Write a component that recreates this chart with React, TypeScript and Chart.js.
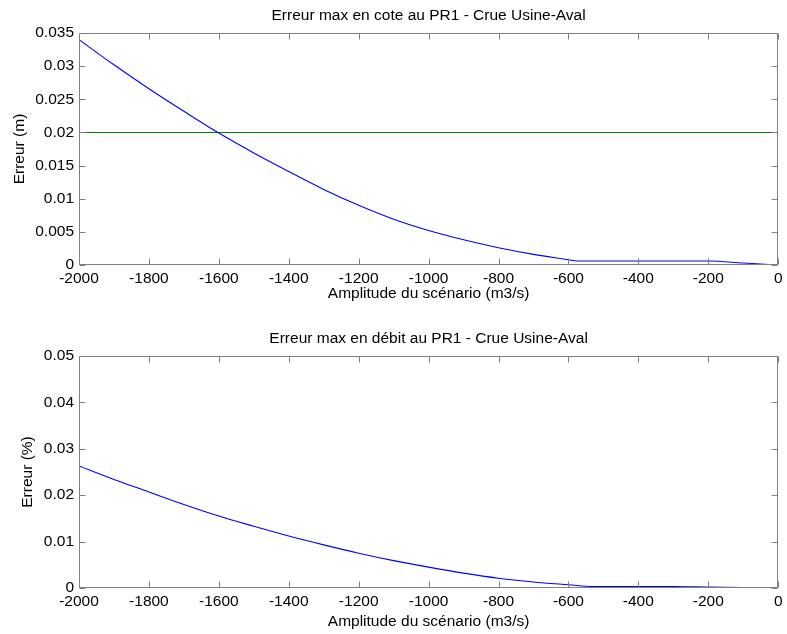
import React, { useEffect, useRef } from 'react';
import { Chart, registerables } from 'chart.js';

Chart.register(...registerables);

// ---- Data ----
const amplitudeCote = [-2000, -1900, -1800, -1700, -1600, -1500, -1400, -1300, -1200, -1100, -1000, -900, -800, -700, -600, -575, -500, -400, -300, -200, -100, 0];
const erreurCote = [0.034, 0.0302, 0.0266, 0.0232, 0.0199, 0.0169, 0.0141, 0.0114, 0.009, 0.0069, 0.0052, 0.0038, 0.0026, 0.0016, 0.0008, 0.0006, 0.0006, 0.0006, 0.0006, 0.0006, 0.0003, 0];
const seuilX = [-2000, 0];
const seuilCote = [0.02, 0.02];

const amplitudeDebit = [-2000, -1900, -1800, -1700, -1600, -1500, -1400, -1300, -1200, -1100, -1000, -900, -800, -700, -600, -530, -400, -300, -200, -100, 0];
const erreurDebit = [0.0263, 0.0234, 0.0207, 0.018, 0.0155, 0.0133, 0.0112, 0.0093, 0.0075, 0.0059, 0.0045, 0.0032, 0.0021, 0.0013, 0.0007, 0.0003, 0.0003, 0.0003, 0.0002, 0.0001, 0];

const xTicks = [-2000, -1800, -1600, -1400, -1200, -1000, -800, -600, -400, -200, 0];
const yTicksCote = [0, 0.005, 0.01, 0.015, 0.02, 0.025, 0.03, 0.035];
const yTicksDebit = [0, 0.01, 0.02, 0.03, 0.04, 0.05];

const titleCote = 'Erreur max en cote au PR1 - Crue Usine-Aval';
const titleDebit = 'Erreur max en débit au PR1 - Crue Usine-Aval';
const xLabel = 'Amplitude du scénario (m3/s)';
const yLabelCote = 'Erreur (m)';
const yLabelDebit = 'Erreur (%)';

// ---- Styles ----
const FONT_FAMILY = '"Liberation Sans", Arial, sans-serif';
const FONT_SIZE = 15.5;
const AXIS_COLOR = '#808080';
const TICK_LEN = 6;

const fmt = (v: number) => String(Number(v.toFixed(4)));

const matlabPlugin = {
  id: 'matlabBox',
  afterDraw(chart: any) {
    const { ctx, chartArea: a, scales } = chart;
    const title = chart.options.plugins.matlabBox.title;
    ctx.save();
    const L = Math.round(a.left) + 0.5;
    const R = Math.round(a.right) - 0.5;
    const T = Math.round(a.top) + 0.5;
    const B = Math.round(a.bottom) - 0.5;
    ctx.strokeStyle = AXIS_COLOR;
    ctx.lineWidth = 1;
    ctx.beginPath();
    ctx.rect(L, T, R - L, B - T);
    ctx.stroke();
    ctx.beginPath();
    scales.x.ticks.forEach((t: any) => {
      const px = Math.round(scales.x.getPixelForValue(t.value)) + 0.5;
      ctx.moveTo(px, B);
      ctx.lineTo(px, B - TICK_LEN);
      ctx.moveTo(px, T);
      ctx.lineTo(px, T + TICK_LEN);
    });
    scales.y.ticks.forEach((t: any) => {
      const py = Math.round(scales.y.getPixelForValue(t.value)) + 0.5;
      ctx.moveTo(L, py);
      ctx.lineTo(L + TICK_LEN, py);
      ctx.moveTo(R, py);
      ctx.lineTo(R - TICK_LEN, py);
    });
    ctx.stroke();
    ctx.fillStyle = '#000';
    ctx.font = `${FONT_SIZE}px ${FONT_FAMILY}`;
    ctx.textAlign = 'center';
    ctx.textBaseline = 'middle';
    ctx.fillText(title, (a.left + a.right) / 2, a.top - 17);
    ctx.restore();
  },
};

function makeConfig(opts: {
  xs: number[][];
  ys: number[][];
  colors: string[];
  yMax: number;
  yTicks: number[];
  title: string;
  yLabel: string;
  yTitlePad: number;
  xTitlePad: number;
  padBottom: number;
}): any {
  const font = { family: FONT_FAMILY, size: FONT_SIZE };
  return {
    type: 'line',
    data: {
      datasets: opts.xs.map((xs, i) => ({
        data: xs.map((x, j) => ({ x, y: opts.ys[i][j] })),
        borderColor: opts.colors[i],
        borderWidth: 1.1,
        pointRadius: 0,
        tension: 0,
        cubicInterpolationMode: 'monotone',
        fill: false,
      })),
    },
    options: {
      responsive: false,
      animation: false,
      devicePixelRatio: 1,
      layout: { padding: { top: 33, right: 5, left: 0, bottom: opts.padBottom } },
      plugins: {
        legend: { display: false },
        tooltip: { enabled: false },
        matlabBox: { title: opts.title },
      },
      scales: {
        x: {
          type: 'linear',
          min: -2000,
          max: 0,
          grid: { display: false, drawTicks: false },
          border: { display: false },
          afterBuildTicks: (s: any) => {
            s.ticks = xTicks.map((v) => ({ value: v }));
          },
          afterFit: (s: any) => {
            s.height = 46;
          },
          ticks: {
            color: '#000',
            font,
            padding: 4.5,
            maxRotation: 0,
            autoSkip: false,
            callback: (v: any) => fmt(Number(v)),
          },
          title: {
            display: true,
            text: xLabel,
            color: '#000',
            font,
            padding: { top: 0, bottom: opts.xTitlePad },
          },
        },
        y: {
          type: 'linear',
          min: 0,
          max: opts.yMax,
          grid: { display: false, drawTicks: false },
          border: { display: false },
          afterBuildTicks: (s: any) => {
            s.ticks = opts.yTicks.map((v) => ({ value: v }));
          },
          afterFit: (s: any) => {
            s.width = 79;
          },
          ticks: {
            color: '#000',
            font,
            padding: 5,
            autoSkip: false,
            callback: (v: any) => fmt(Number(v)),
          },
          title: {
            display: true,
            text: opts.yLabel,
            color: '#000',
            font,
            padding: { top: opts.yTitlePad, bottom: 0 },
          },
        },
      },
    },
    plugins: [matlabPlugin],
  };
}

export default function App() {
  const topRef = useRef<HTMLCanvasElement | null>(null);
  const botRef = useRef<HTMLCanvasElement | null>(null);

  useEffect(() => {
    const c1 = new Chart(
      topRef.current as HTMLCanvasElement,
      makeConfig({
        xs: [amplitudeCote, seuilX],
        ys: [erreurCote, seuilCote],
        colors: ['#0000ff', '#008000'],
        yMax: 0.035,
        yTicks: yTicksCote,
        title: titleCote,
        yLabel: yLabelCote,
        yTitlePad: 10,
        xTitlePad: 8,
        padBottom: 12,
      })
    );
    const c2 = new Chart(
      botRef.current as HTMLCanvasElement,
      makeConfig({
        xs: [amplitudeDebit],
        ys: [erreurDebit],
        colors: ['#0000ff'],
        yMax: 0.05,
        yTicks: yTicksDebit,
        title: titleDebit,
        yLabel: yLabelDebit,
        yTitlePad: 18,
        xTitlePad: 3,
        padBottom: 0,
      })
    );
    return () => {
      c1.destroy();
      c2.destroy();
    };
  }, []);

  return (
    <div style={{ position: 'absolute', left: 0, top: 0, width: 787, height: 634, background: '#fff' }}>
      <canvas ref={topRef} width={787} height={323} style={{ display: 'block', width: 787, height: 323 }} />
      <canvas ref={botRef} width={787} height={311} style={{ display: 'block', width: 787, height: 311 }} />
    </div>
  );
}
